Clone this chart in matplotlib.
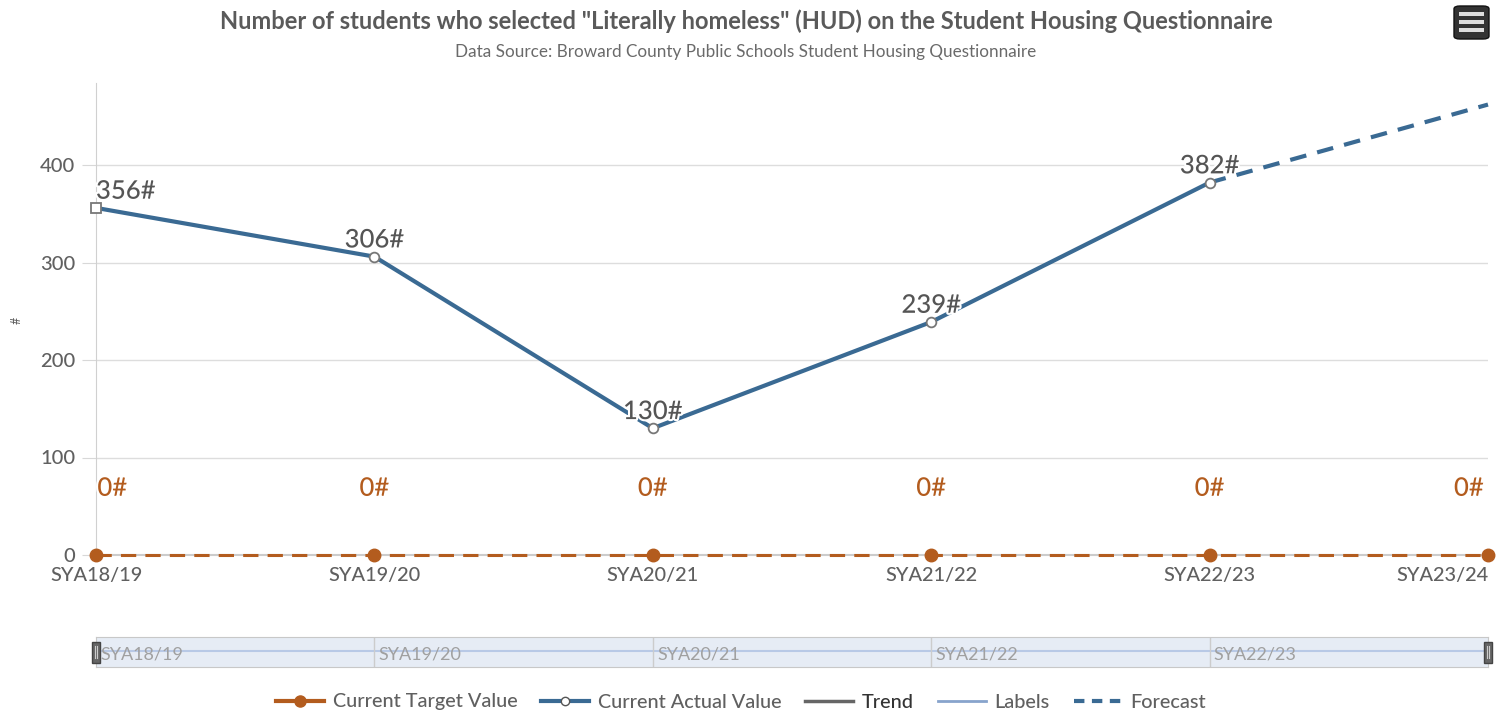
import matplotlib
matplotlib.use("Agg")
import matplotlib.pyplot as plt
import matplotlib.patheffects as pe
from matplotlib.lines import Line2D
from matplotlib.patches import FancyBboxPatch, Rectangle
from matplotlib.transforms import offset_copy

plt.rcParams['font.family'] = ['Lato', 'DejaVu Sans']

categories = ["SYA18/19", "SYA19/20", "SYA20/21", "SYA21/22", "SYA22/23", "SYA23/24"]
actual = [356, 306, 130, 239, 382]
target = [0, 0, 0, 0, 0, 0]
forecast_x = [4, 5]
forecast_vals = [382, 462]
yticks = [0, 100, 200, 300, 400]

title = 'Number of students who selected "Literally homeless" (HUD) on the Student Housing Questionnaire'
subtitle = "Data Source: Broward County Public Schools Student Housing Questionnaire"

W, H = 1496, 714
fig = plt.figure(figsize=(W / 100, H / 100), dpi=100)

def fx(px):
    return px / W

def fy(py):
    return 1 - py / H

BLUE = '#3a6a93'
ORANGE = '#b35c1e'
GRAY_TXT = '#606060'
WT = 'medium'

left, right, top, bottom = 96, 1488, 83, 555
ax = fig.add_axes([fx(left), fy(bottom), fx(right - left), (bottom - top) / H])
ax.set_xlim(0, 5)
ax.set_ylim(0, (bottom - top) / 0.975)

for s in ['top', 'right']:
    ax.spines[s].set_visible(False)
ax.spines['left'].set_color('#d0d0d0')
ax.spines['bottom'].set_color('#cccccc')
ax.spines['bottom'].set_linewidth(1.5)

ax.set_yticks(yticks)
ax.set_yticklabels([str(v) for v in yticks], fontsize=14.5, color=GRAY_TXT, fontweight=WT)
ax.tick_params(axis='y', length=10, color='#d8d8d8', pad=5)
ax.set_xticks(range(len(categories)))
ax.set_xticklabels(categories, fontsize=14.3, color=GRAY_TXT, fontweight=WT)
lastlab = ax.get_xticklabels()[-1]
lastlab.set_ha('right')
lastlab.set_transform(offset_copy(lastlab.get_transform(), fig=fig, x=5, units='points'))
ax.tick_params(axis='x', length=0, pad=9)
ax.grid(axis='y', color='#dddddd', linewidth=1)
ax.set_axisbelow(True)

fig.text(fx(17), fy(320), '#', rotation=90, ha='center', va='center', fontsize=9, color=GRAY_TXT)

xs = list(range(len(actual)))
ax.plot(xs, actual, color=BLUE, linewidth=3, zorder=3, solid_capstyle='round')
ax.plot(xs[:1], actual[:1], marker='s', markersize=7, markerfacecolor='white',
        markeredgecolor='#777777', markeredgewidth=1.3, linestyle='none', zorder=4, clip_on=False)
ax.plot(xs[1:], actual[1:], marker='o', markersize=7, markerfacecolor='white',
        markeredgecolor='#777777', markeredgewidth=1.3, linestyle='none', zorder=4, clip_on=False)
ax.plot(forecast_x, forecast_vals, color=BLUE, linewidth=3, linestyle=(0, (4, 2.7)), zorder=3,
        clip_on=False)

tx = list(range(len(target)))
ax.plot(tx, target, color=ORANGE, linewidth=2.2, linestyle=(0, (5, 3)), marker='o',
        markersize=9, zorder=5, clip_on=False)

halo = [pe.withStroke(linewidth=3, foreground='white')]
for i, v in enumerate(actual):
    ha = 'left' if i == 0 else 'center'
    ax.annotate(f"{v}#", (i, v), xytext=(0, 3), textcoords='offset points',
                ha=ha, va='bottom', fontsize=18.5, color='#555555', path_effects=halo, zorder=6,
                fontweight=WT)
for i, v in enumerate(target):
    if i == 0:
        ha, dx = 'left', 1
    elif i == len(target) - 1:
        ha, dx = 'right', -3
    else:
        ha, dx = 'center', 0
    ax.annotate(f"{v}#", (i, v), xytext=(dx, 48), textcoords='offset points',
                ha=ha, va='center', fontsize=18.5, color=ORANGE, path_effects=halo, zorder=6,
                annotation_clip=False, fontweight=WT)

# Title and subtitle
fig.text(fx(746), fy(21), title, ha='center', va='center', fontsize=17, fontweight='bold',
         color='#5a5a5a')
fig.text(fx(746), fy(52), subtitle, ha='center', va='center', fontsize=12.3, color='#6a6a6a')

# Menu button
mb = FancyBboxPatch((fx(1454), fy(39)), fx(35), 33 / H,
                    boxstyle='round,pad=0.0,rounding_size=0.004',
                    transform=fig.transFigure, facecolor='#333333', edgecolor='#111111', lw=1)
fig.patches.append(mb)
for yy in (14, 22, 30):
    fig.patches.append(Rectangle((fx(1459), fy(yy + 2)), fx(25), 4 / H, transform=fig.transFigure,
                                 facecolor='#dddddd', edgecolor='none'))

# Navigator
nav = fig.add_axes([fx(left), fy(667), fx(right - left), 30 / H])
nav.set_xlim(0, 5)
nav.set_ylim(0, 1)
nav.set_facecolor('#e6ecf5')
for s in nav.spines.values():
    s.set_color('#c8c8c8')
nav.set_xticks([])
nav.set_yticks([])
nav.axhline(0.52, color='#b8c9e6', linewidth=1.5)
for i in range(1, len(categories) - 1):
    nav.axvline(i, color='#cccccc', linewidth=1)
for i, c in enumerate(categories[:-1]):
    nav.text(i + 0.015, 0.42, c, ha='left', va='center', fontsize=13, color='#a0a0a0')
for xx in (0, 5):
    nav.add_patch(Rectangle((xx - 0.016, 0.15), 0.032, 0.7, facecolor='#666666',
                            edgecolor='#444444', clip_on=False, zorder=5))
    for d in (-0.004, 0.004):
        nav.plot([xx + d, xx + d], [0.3, 0.7], color='#cccccc', lw=0.8, zorder=6, clip_on=False)

# Legend
handles = [
    Line2D([], [], color=ORANGE, lw=3, marker='o', markersize=8),
    Line2D([], [], color=BLUE, lw=3, marker='o', markersize=6, markerfacecolor='white',
           markeredgecolor='#555555'),
    Line2D([], [], color='#666666', lw=2.5),
    Line2D([], [], color='#88a4cc', lw=2),
    Line2D([], [], color=BLUE, lw=3, linestyle=(0, (2.5, 1.8))),
]
labels = ["Current Target Value", "Current Actual Value", "Trend", "Labels", "Forecast"]
leg = fig.legend(handles, labels, loc='center', bbox_to_anchor=(fx(741), fy(702)), ncol=5,
                 frameon=False, fontsize=14.3, handlelength=2.4, columnspacing=1.2,
                 handletextpad=0.45)
for t in leg.get_texts():
    t.set_color(GRAY_TXT)
    t.set_fontweight(WT)
leg.get_texts()[2].set_color('#333333')

fig.savefig('out.png', dpi=100)
